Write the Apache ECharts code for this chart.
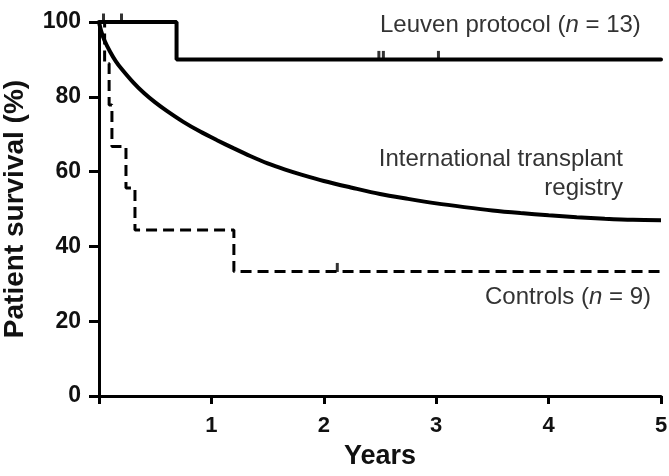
<!DOCTYPE html>
<html>
<head>
<meta charset="utf-8">
<script src="https://cdn.jsdelivr.net/npm/echarts@6/dist/echarts.min.js"></script>
<style>
  html, body { margin: 0; padding: 0; background: #fff; }
  #chart { width: 669px; height: 476px; }
</style>
</head>
<body>
<div id="chart"></div>
<script>
  // Leuven protocol (Kaplan-Meier step)
  const leuvenYears = [0, 0.69, 0.69, 5]
  const leuvenSurvival = [100, 100, 90, 90]
  const leuvenCensorYears = [0.04, 0.2, 2.49, 2.53, 3.02]
  const leuvenCensorSurvival = [100, 100, 90, 90, 90]

  // International transplant registry (smooth curve)
  const registryYears = [0, 0.02, 0.05, 0.1, 0.15, 0.2, 0.3, 0.4, 0.5, 0.6, 0.75, 0.9, 1.05, 1.2, 1.35, 1.5, 1.65, 1.8, 2, 2.25, 2.5, 2.75, 3, 3.25, 3.5, 3.75, 4, 4.25, 4.5, 4.75, 5]
  const registrySurvival = [100, 97.5, 95, 92, 89.5, 87.5, 84, 81, 78.5, 76.3, 73.3, 70.7, 68.4, 66.2, 64.1, 62.2, 60.6, 59.2, 57.5, 55.7, 54, 52.7, 51.5, 50.5, 49.6, 48.9, 48.3, 47.8, 47.4, 47.1, 47]

  // Controls (dashed step)
  const controlYears = [0, 0.05, 0.05, 0.09, 0.09, 0.115, 0.115, 0.24, 0.24, 0.32, 0.32, 1.2, 1.2, 5]
  const controlSurvival = [100, 100, 88.9, 88.9, 77.8, 77.8, 66.7, 66.7, 55.6, 55.6, 44.4, 44.4, 33.3, 33.3]
  const controlCensorYears = [2.12]
  const controlCensorSurvival = [33.3]

  const yTicks = [0, 20, 40, 60, 80, 100]
  const xTicks = [0, 1, 2, 3, 4, 5]

  const zip = (xs, ys) => xs.map((x, i) => [x, ys[i]])
  const font = '"Liberation Sans", Arial, Helvetica, sans-serif'
  const italic = { i: { fontStyle: 'italic', fontSize: 24, fontFamily: font, fill: '#333' } }

  const chart = echarts.init(document.getElementById('chart'))

  const option = {
    animation: false,
    grid: { left: 99, right: 8, top: 22, bottom: 80, outerBoundsMode: 'none' },
    xAxis: {
      type: 'value',
      min: xTicks[0],
      max: xTicks[xTicks.length - 1],
      interval: 1,
      name: 'Years',
      nameLocation: 'middle',
      nameGap: 47,
      nameTextStyle: { color: '#111', fontSize: 27, fontWeight: 'bold', fontFamily: font },
      axisLine: { lineStyle: { color: '#000', width: 3 } },
      axisTick: { length: 8, lineStyle: { color: '#000', width: 3 } },
      axisLabel: {
        color: '#111', fontSize: 22, fontWeight: 'bold', fontFamily: font, margin: 19,
        formatter: v => (v === 0 ? '' : String(v))
      },
      splitLine: { show: false }
    },
    yAxis: {
      type: 'value',
      min: yTicks[0],
      max: yTicks[yTicks.length - 1],
      interval: 20,
      name: 'Patient survival (%)',
      nameLocation: 'middle',
      nameGap: 70,
      nameTextStyle: { color: '#111', fontSize: 28, fontWeight: 'bold', fontFamily: font },
      axisLine: { show: true, lineStyle: { color: '#000', width: 3 } },
      axisTick: { show: true, length: 10, lineStyle: { color: '#000', width: 3 } },
      axisLabel: { color: '#111', fontSize: 23, fontWeight: 'bold', fontFamily: font, margin: 18 },
      splitLine: { show: false }
    },
    series: [
      {
        name: 'Leuven',
        type: 'line',
        data: zip(leuvenYears, leuvenSurvival),
        symbol: 'none',
        lineStyle: { color: '#000', width: 4, cap: 'round' },
        z: 3
      },
      {
        name: 'Registry',
        type: 'line',
        data: zip(registryYears, registrySurvival),
        symbol: 'none',
        smooth: 0.3,
        lineStyle: { color: '#000', width: 4 },
        z: 3
      },
      {
        name: 'Controls',
        type: 'line',
        data: zip(controlYears, controlSurvival),
        symbol: 'none',
        lineStyle: { color: '#000', width: 3, type: [11, 6] },
        z: 2
      },
      {
        name: 'Censored',
        type: 'scatter',
        data: zip(leuvenCensorYears, leuvenCensorSurvival).concat(zip(controlCensorYears, controlCensorSurvival)),
        symbol: 'rect',
        symbolSize: [3, 9],
        symbolOffset: [0, -4],
        itemStyle: { color: '#000' },
        z: 4
      }
    ],
    graphic: [
      {
        type: 'text',
        left: 380,
        top: 13,
        style: { text: 'Leuven protocol ({i|n} = 13)', font: '24px ' + font, fill: '#333', rich: italic }
      },
      {
        type: 'text',
        right: 46,
        top: 147,
        style: { text: 'International transplant', font: '24px ' + font, fill: '#333' }
      },
      {
        type: 'text',
        right: 46,
        top: 176,
        style: { text: 'registry', font: '24px ' + font, fill: '#333' }
      },
      {
        type: 'text',
        left: 485,
        top: 285,
        style: { text: 'Controls ({i|n} = 9)', font: '24px ' + font, fill: '#333', rich: italic }
      }
    ]
  }

  chart.setOption(option)
</script>
</body>
</html>
